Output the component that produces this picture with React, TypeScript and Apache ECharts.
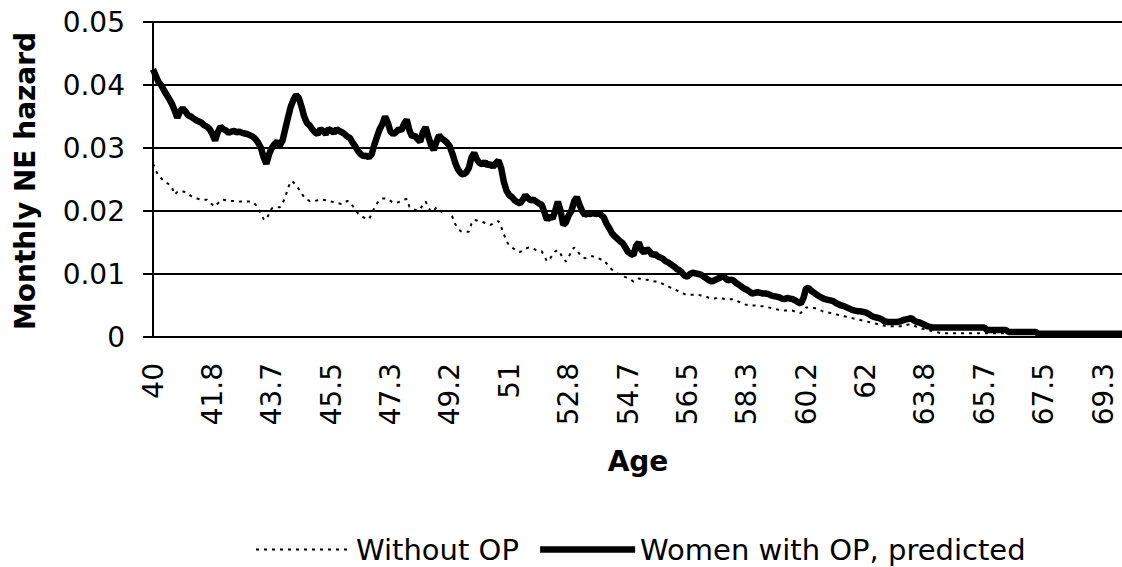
import React, { useEffect, useRef } from "react";
import * as echarts from "echarts";

// Ages, monthly from 40 onward (360 months)
const START_AGE = 40;
const MONTHS = 360;
const AGE_TICKS = ["40", "41.8", "43.7", "45.5", "47.3", "49.2", "51", "52.8", "54.7", "56.5", "58.3", "60.2", "62", "63.8", "65.7", "67.5", "69.3"];

const AGES: string[] = [];
for (let m = 0; m < MONTHS; m++) {
  AGES.push(String(parseFloat((START_AGE + m / 12).toFixed(1))));
}

const WITHOUT_OP = [
  0.0275, 0.0265, 0.0256, 0.0252, 0.0248, 0.0245, 0.0242, 0.0238, 0.0226, 0.0230,
  0.0232, 0.0231, 0.0230, 0.0227, 0.0224, 0.0222, 0.0220, 0.0219, 0.0218, 0.0218,
  0.0218, 0.0214, 0.0210, 0.0207, 0.0212, 0.0216, 0.0218, 0.0217, 0.0216, 0.0216,
  0.0216, 0.0216, 0.0215, 0.0215, 0.0215, 0.0215, 0.0215, 0.0214, 0.0210, 0.0204,
  0.0196, 0.0187, 0.0186, 0.0196, 0.0204, 0.0206, 0.0206, 0.0206, 0.0212, 0.0222,
  0.0236, 0.0247, 0.0246, 0.0240, 0.0235, 0.0228, 0.0222, 0.0218, 0.0216, 0.0217,
  0.0216, 0.0217, 0.0218, 0.0218, 0.0217, 0.0216, 0.0215, 0.0214, 0.0213, 0.0212,
  0.0211, 0.0213, 0.0216, 0.0214, 0.0208, 0.0202, 0.0196, 0.0193, 0.0190, 0.0188,
  0.0187, 0.0195, 0.0205, 0.0212, 0.0217, 0.0220, 0.0220, 0.0219, 0.0216, 0.0213,
  0.0213, 0.0214, 0.0216, 0.0218, 0.0219, 0.0207, 0.0204, 0.0202, 0.0200, 0.0203,
  0.0210, 0.0215, 0.0206, 0.0199, 0.0200, 0.0206, 0.0202, 0.0198, 0.0199, 0.0200,
  0.0200, 0.0190, 0.0179, 0.0172, 0.0168, 0.0167, 0.0167, 0.0167, 0.0180, 0.0186,
  0.0185, 0.0184, 0.0183, 0.0181, 0.0179, 0.0178, 0.0180, 0.0182, 0.0184, 0.0175,
  0.0163, 0.0152, 0.0145, 0.0142, 0.0139, 0.0136, 0.0135, 0.0137, 0.0140, 0.0142,
  0.0142, 0.0140, 0.0138, 0.0137, 0.0136, 0.0128, 0.0120, 0.0124, 0.0130, 0.0136,
  0.0138, 0.0132, 0.0124, 0.0120, 0.0127, 0.0136, 0.0142, 0.0138, 0.0132, 0.0127,
  0.0125, 0.0126, 0.0128, 0.0128, 0.0127, 0.0125, 0.0123, 0.0122, 0.0117, 0.0112,
  0.0107, 0.0104, 0.0101, 0.0099, 0.0097, 0.0095, 0.0094, 0.0091, 0.0088, 0.0090,
  0.0093, 0.0092, 0.0091, 0.0091, 0.0090, 0.0089, 0.0088, 0.0088, 0.0086, 0.0084,
  0.0082, 0.0080, 0.0078, 0.0076, 0.0074, 0.0072, 0.0070, 0.0068, 0.0067, 0.0067,
  0.0067, 0.0067, 0.0067, 0.0066, 0.0065, 0.0064, 0.0062, 0.0061, 0.0061, 0.0062,
  0.0062, 0.0061, 0.0060, 0.0060, 0.0060, 0.0060, 0.0058, 0.0056, 0.0054, 0.0052,
  0.0051, 0.0051, 0.0050, 0.0050, 0.0049, 0.0049, 0.0049, 0.0048, 0.0047, 0.0046,
  0.0045, 0.0044, 0.0043, 0.0043, 0.0042, 0.0042, 0.0042, 0.0042, 0.0040, 0.0039,
  0.0038, 0.0042, 0.0047, 0.0047, 0.0046, 0.0046, 0.0045, 0.0043, 0.0041, 0.0040,
  0.0039, 0.0038, 0.0037, 0.0036, 0.0035, 0.0034, 0.0033, 0.0032, 0.0031, 0.0030,
  0.0029, 0.0028, 0.0027, 0.0026, 0.0025, 0.0024, 0.0023, 0.0022, 0.0021, 0.0020,
  0.0019, 0.0018, 0.0018, 0.0017, 0.0017, 0.0017, 0.0017, 0.0017, 0.0018, 0.0019,
  0.0020, 0.0020, 0.0018, 0.0016, 0.0015, 0.0013, 0.0012, 0.0011, 0.0010, 0.0009,
  0.0008, 0.0007, 0.0006, 0.0006, 0.0006, 0.0006, 0.0006, 0.0006, 0.0006, 0.0006,
  0.0006, 0.0006, 0.0006, 0.0006, 0.0006, 0.0006, 0.0006, 0.0006, 0.0006, 0.0006,
  0.0006, 0.0006, 0.0006, 0.0006, 0.0006, 0.0006, 0.0006, 0.0005, 0.0005, 0.0005,
  0.0005, 0.0005, 0.0005, 0.0005, 0.0005, 0.0005, 0.0005, 0.0005, 0.0004, 0.0004,
  0.0004, 0.0004, 0.0004, 0.0004, 0.0004, 0.0004, 0.0004, 0.0004, 0.0004, 0.0004,
  0.0004, 0.0004, 0.0004, 0.0004, 0.0004, 0.0004, 0.0004, 0.0004, 0.0004, 0.0004,
  0.0004, 0.0004, 0.0004, 0.0004, 0.0004, 0.0004, 0.0004, 0.0004, 0.0004, 0.0004,
];

const WITH_OP = [
  0.0425, 0.0415, 0.0405, 0.0400, 0.0392, 0.0385, 0.0378, 0.0370, 0.0360, 0.0348,
  0.0358, 0.0363, 0.0358, 0.0352, 0.0350, 0.0347, 0.0344, 0.0342, 0.0340, 0.0336,
  0.0334, 0.0330, 0.0322, 0.0312, 0.0325, 0.0334, 0.0330, 0.0328, 0.0324, 0.0326,
  0.0327, 0.0325, 0.0326, 0.0324, 0.0323, 0.0322, 0.0320, 0.0318, 0.0314, 0.0308,
  0.0300, 0.0285, 0.0275, 0.0290, 0.0300, 0.0306, 0.0310, 0.0304, 0.0312, 0.0330,
  0.0348, 0.0365, 0.0376, 0.0384, 0.0380, 0.0366, 0.0350, 0.0340, 0.0336, 0.0330,
  0.0325, 0.0322, 0.0330, 0.0327, 0.0322, 0.0330, 0.0328, 0.0324, 0.0330, 0.0327,
  0.0325, 0.0322, 0.0318, 0.0316, 0.0308, 0.0302, 0.0295, 0.0290, 0.0287, 0.0288,
  0.0285, 0.0290, 0.0305, 0.0318, 0.0330, 0.0338, 0.0350, 0.0340, 0.0326, 0.0322,
  0.0325, 0.0330, 0.0328, 0.0338, 0.0345, 0.0328, 0.0318, 0.0320, 0.0314, 0.0310,
  0.0325, 0.0333, 0.0318, 0.0305, 0.0297, 0.0310, 0.0320, 0.0315, 0.0312, 0.0308,
  0.0302, 0.0290, 0.0276, 0.0266, 0.0260, 0.0258, 0.0261, 0.0268, 0.0285, 0.0292,
  0.0282, 0.0276, 0.0274, 0.0278, 0.0272, 0.0275, 0.0270, 0.0276, 0.0280, 0.0268,
  0.0246, 0.0232, 0.0225, 0.0222, 0.0217, 0.0214, 0.0212, 0.0218, 0.0225, 0.0220,
  0.0217, 0.0218, 0.0215, 0.0212, 0.0210, 0.0198, 0.0186, 0.0192, 0.0188, 0.0200,
  0.0215, 0.0200, 0.0178, 0.0182, 0.0193, 0.0200, 0.0215, 0.0222, 0.0210, 0.0200,
  0.0194, 0.0196, 0.0195, 0.0197, 0.0195, 0.0196, 0.0194, 0.0190, 0.0180, 0.0173,
  0.0165, 0.0160, 0.0156, 0.0152, 0.0149, 0.0142, 0.0135, 0.0132, 0.0130, 0.0145,
  0.0150, 0.0138, 0.0134, 0.0140, 0.0136, 0.0130, 0.0132, 0.0128, 0.0126, 0.0124,
  0.0120, 0.0118, 0.0115, 0.0112, 0.0108, 0.0106, 0.0102, 0.0097, 0.0096, 0.0100,
  0.0102, 0.0101, 0.0100, 0.0099, 0.0096, 0.0093, 0.0090, 0.0088, 0.0090, 0.0092,
  0.0094, 0.0097, 0.0094, 0.0090, 0.0091, 0.0090, 0.0086, 0.0083, 0.0080, 0.0077,
  0.0075, 0.0072, 0.0069, 0.0070, 0.0071, 0.0070, 0.0069, 0.0069, 0.0068, 0.0066,
  0.0065, 0.0064, 0.0063, 0.0061, 0.0060, 0.0062, 0.0061, 0.0060, 0.0058, 0.0055,
  0.0053, 0.0062, 0.0078, 0.0077, 0.0073, 0.0070, 0.0067, 0.0064, 0.0062, 0.0060,
  0.0059, 0.0058, 0.0057, 0.0054, 0.0052, 0.0050, 0.0049, 0.0047, 0.0045, 0.0043,
  0.0042, 0.0041, 0.0041, 0.0040, 0.0039, 0.0037, 0.0034, 0.0032, 0.0031, 0.0030,
  0.0028, 0.0025, 0.0024, 0.0024, 0.0024, 0.0024, 0.0024, 0.0025, 0.0027, 0.0028,
  0.0029, 0.0030, 0.0026, 0.0024, 0.0023, 0.0021, 0.0019, 0.0017, 0.0016, 0.0015,
  0.0015, 0.0015, 0.0015, 0.0015, 0.0015, 0.0015, 0.0015, 0.0015, 0.0015, 0.0015,
  0.0015, 0.0015, 0.0015, 0.0015, 0.0015, 0.0015, 0.0015, 0.0015, 0.0015, 0.0011,
  0.0011, 0.0011, 0.0011, 0.0011, 0.0011, 0.0011, 0.0011, 0.0008, 0.0008, 0.0008,
  0.0008, 0.0008, 0.0008, 0.0008, 0.0008, 0.0008, 0.0008, 0.0008, 0.0005, 0.0005,
  0.0005, 0.0005, 0.0005, 0.0005, 0.0005, 0.0005, 0.0005, 0.0005, 0.0005, 0.0005,
  0.0005, 0.0005, 0.0005, 0.0005, 0.0005, 0.0005, 0.0005, 0.0005, 0.0005, 0.0005,
  0.0005, 0.0005, 0.0005, 0.0005, 0.0005, 0.0005, 0.0005, 0.0005, 0.0005, 0.0005,
];

const FONT = "DejaVu Sans";

export default function App() {
  const ref = useRef<HTMLDivElement>(null);
  useEffect(() => {
    if (!ref.current) return;
    const chart = echarts.init(ref.current, null, { renderer: "svg" });
    chart.setOption({
      animation: false,
      backgroundColor: "#fff",
      textStyle: { fontFamily: FONT, color: "#000" },
      grid: { left: 153, right: 0, top: 22, bottom: 230, containLabel: false },
      legend: {
        left: 250,
        top: 530,
        itemWidth: 95,
        itemHeight: 14,
        itemGap: 18,
        itemStyle: { opacity: 0 },
        textStyle: { fontFamily: FONT, fontSize: 29, color: "#000" },
        data: [
          { name: "Without OP", lineStyle: { width: 2 } },
          { name: "Women with OP, predicted", lineStyle: { width: 6.5 } },
        ],
      },
      xAxis: {
        type: "category",
        data: AGES,
        boundaryGap: false,
        axisLine: { show: true, lineStyle: { color: "#000", width: 2 } },
        axisTick: { show: false },
        splitLine: { show: false },
        axisLabel: {
          interval: 21,
          rotate: 90,
          margin: 26,
          fontSize: 28,
          fontFamily: FONT,
          color: "#000",
          formatter: (v: string, i: number) => AGE_TICKS[Math.round(i / 22)] ?? v,
        },
      },
      yAxis: {
        type: "value",
        min: 0,
        max: 0.05,
        interval: 0.01,
        axisLine: { show: true, lineStyle: { color: "#000", width: 2 } },
        axisTick: { show: true, length: 10, lineStyle: { color: "#000", width: 2 } },
        splitLine: { show: true, lineStyle: { color: "#000", width: 2 } },
        axisLabel: {
          margin: 28,
          fontSize: 28,
          fontFamily: FONT,
          color: "#000",
          formatter: (v: number) => String(parseFloat(v.toFixed(2))),
        },
      },
      graphic: [
        {
          type: "text",
          x: 25,
          y: 181,
          rotation: Math.PI / 2,
          style: {
            text: "Monthly NE hazard",
            font: `bold 28px "${FONT}"`,
            fill: "#000",
            align: "center",
            verticalAlign: "middle",
          },
        },
        {
          type: "text",
          x: 638,
          y: 461,
          style: {
            text: "Age",
            font: `bold 28px "${FONT}"`,
            fill: "#000",
            align: "center",
            verticalAlign: "middle",
          },
        },
      ],
      series: [
        {
          name: "Without OP",
          type: "line",
          data: WITHOUT_OP,
          symbol: "none",
          lineStyle: { color: "#000", width: 2, type: [3, 5] },
          itemStyle: { color: "#000" },
          z: 3,
        },
        {
          name: "Women with OP, predicted",
          type: "line",
          data: WITH_OP,
          symbol: "none",
          lineStyle: { color: "#000", width: 6.5, type: "solid" },
          itemStyle: { color: "#000" },
          z: 2,
        },
      ],
    });
    return () => chart.dispose();
  }, []);
  return (
    <div
      ref={ref}
      style={{ position: "fixed", left: 0, top: 0, width: 1122, height: 567, background: "#fff" }}
    />
  );
}
